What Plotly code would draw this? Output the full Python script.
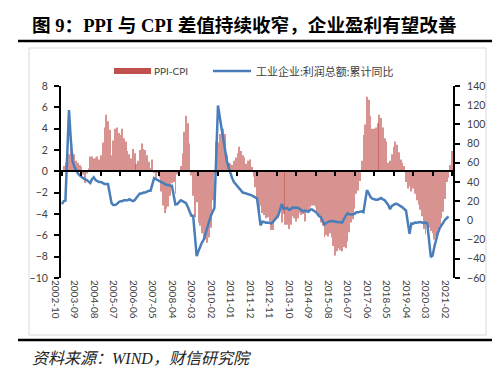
import pandas as pd
import plotly.graph_objects as go

# ---------------- data ----------------
months = [p.strftime('%Y-%m') for p in pd.period_range('2002-10', '2021-02', freq='M')]

tick_labels = ['2002-10', '2003-09', '2004-08', '2005-07', '2006-06', '2007-05', '2008-04',
               '2009-03', '2010-02', '2011-01', '2011-12', '2012-11', '2013-10', '2014-09',
               '2015-08', '2016-07', '2017-06', '2018-05', '2019-04', '2020-03', '2021-02']

ppi_cpi = (
    [-0.2, 0.5, 0.8] +                                                  # 2002 Oct-Dec
    [1.2, 1.6, 2.2, 2.0, 1.6, 1.0, 0.8, 0.6, 0.4, -0.3, -1.1, -0.2] +  # 2003
    [0.3, 1.4, 1.4, 1.2, 1.3, 1.4, 1.1, 1.5, 2.7, 4.1, 5.3, 4.7] +     # 2004
    [3.9, 1.5, 2.9, 4.0, 4.1, 3.6, 3.4, 4.0, 3.1, 2.8, 1.9, 1.6] +     # 2005
    [1.2, 2.1, 1.7, 0.7, 1.0, 2.0, 2.6, 2.1, 2.0, 1.5, 0.9, 0.3] +     # 2006
    [1.1, -0.1, -0.6, -0.1, -0.6, -1.9, -3.2, -3.9, -3.5, -3.3, -2.3, -1.1] +  # 2007
    [-1.0, -2.1, -0.3, -0.4, 0.5, 1.7, 3.7, 5.2, 4.5, 2.6, -0.4, -2.3] +       # 2008
    [-4.3, -2.9, -4.8, -5.1, -5.8, -6.1, -6.4, -6.7, -6.2, -5.3, -2.7, -0.2] + # 2009
    [2.8, 2.7, 3.5, 4.0, 4.0, 3.5, 1.5, 0.8, 0.7, 0.6, 1.0, 1.3] +     # 2010
    [1.7, 2.3, 1.9, 1.5, 1.3, 0.7, 1.0, 1.1, 0.4, -0.5, -1.5, -2.4] +  # 2011
    [-3.8, -3.2, -3.9, -4.1, -4.4, -4.3, -4.7, -5.5, -5.5, -4.5, -4.2, -4.4] + # 2012
    [-3.6, -4.8, -4.0, -5.0, -5.0, -5.4, -5.0, -4.2, -4.4, -4.7, -4.4, -3.9] + # 2013
    [-4.1, -4.0, -4.7, -3.8, -3.9, -3.4, -3.2, -3.2, -3.4, -3.8, -4.1, -4.8] + # 2014
    [-5.1, -6.2, -6.0, -6.1, -5.8, -6.2, -7.0, -7.9, -7.5, -7.2, -7.4, -7.5] + # 2015
    [-7.1, -7.2, -6.6, -5.7, -4.8, -4.5, -3.5, -2.1, -1.8, -0.9, 1.0, 3.4] +   # 2016
    [4.4, 7.0, 6.7, 5.2, 4.0, 4.0, 4.1, 4.5, 5.3, 5.0, 4.1, 3.1] +     # 2017
    [2.8, 0.8, 1.0, 1.6, 2.3, 2.8, 2.5, 1.8, 1.1, 0.8, 0.5, -1.0] +    # 2018
    [-1.6, -1.4, -1.9, -1.6, -2.1, -2.7, -3.1, -3.6, -4.2, -5.4, -5.9, -5.0] + # 2019
    [-5.3, -5.6, -5.8, -6.4, -6.1, -5.5, -5.1, -4.4, -3.8, -2.6, -1.0, -0.6] + # 2020
    [0.6, 1.9]                                                           # 2021 Jan-Feb
)

profit_yoy = (
    [17, 20, 20.6] +                                                    # 2002 Oct-Dec
    [None, 115, 85, 62, 56, 52, 49, 47, 45, 44, 43, 42] +               # 2003
    [None, 39, 43, 45, 42, 41, 40, 40, 39, 38, 38, 38] +                # 2004
    [None, 18, 16, 16, 17, 19, 20, 20, 21, 21, 21, 22] +                # 2005
    [None, 20, 21, 24, 26, 28, 28, 29, 29, 30, 31, 31] +                # 2006
    [None, 44, 43, 42, 41, 40, 39, 38, 37, 37, 36, 36] +                # 2007
    [None, 16.5, 17, 18.5, 20.9, 20, 19, 18, 14, 9, 4.9, 4.9] +         # 2008
    [None, -37.3, -32, -27, -22.9, -20, -13, -8, -2, 5, 9, 13] +        # 2009
    [None, 119.7, 105, 96, 85, 72, 62, 55, 48, 44, 40, 38] +            # 2010
    [None, 34, 32, 29, 28.5, 28, 27, 27, 26, 25, 24, 23] +              # 2011
    [None, -5.2, -1.3, -1.6, -2.4, -2.2, -2.7, -3.1, -1.8, 0.5, 3, 5.3] +        # 2012
    [None, 17.2, 12.1, 12.4, 13.0, 11.1, 11.6, 13.4, 13.5, 13.7, 13.2, 12.2] +   # 2013
    [None, 9.4, 10.1, 9.6, 8.9, 11.4, 11.4, 10.0, 9.0, 7.0, 4.4, 3.3] +          # 2014
    [None, -4.2, -2.7, -1.3, -0.8, -0.7, -1.0, -1.9, -1.7, -2.0, -1.9, -2.3] +   # 2015
    [None, 4.8, 7.4, 6.5, 6.4, 6.2, 6.9, 8.4, 8.4, 8.6, 9.4, 8.5] +              # 2016
    [None, 31.5, 28.3, 24.4, 22.7, 22.0, 21.6, 21.6, 22.8, 23.3, 21.9, 21.0] +   # 2017
    [None, 16.1, 11.6, 15.0, 16.5, 17.2, 17.1, 16.2, 14.7, 13.6, 11.8, 10.3] +   # 2018
    [None, -14.0, -3.3, -3.4, -2.3, -2.4, -1.7, -1.7, -2.1, -2.9, -2.1, -3.3] +  # 2019
    [None, -38.3, -36.7, -27.4, -19.3, -12.8, -8.1, -4.4, -2.4, 0.7, 2.4, 4.1] + # 2020
    [None, None]                                                         # 2021
)

left_range = [-10, 8]
right_range = [-60, 140]

title_text = '图 9：PPI 与 CPI 差值持续收窄，企业盈利有望改善'
source_text = '资料来源：WIND，财信研究院'
bar_name = 'PPI-CPI'
line_name = '工业企业:利润总额:累计同比'

# ---------------- layout geometry (pixels) ----------------
W, H = 500, 368
PL, PR, PT, PB = 53, 445, 78, 270   # plot area box


def px2x(px):
    return (px - PL) / (PR - PL)


def py2y(py):
    return (PB - py) / (PB - PT)


RED = '#C0504D'
BLUE = '#4A7EBB'
TXT = '#404040'
TICKFONT = dict(family='Lato, Noto Sans CJK SC, sans-serif', size=10.5, color=TXT)

fig = go.Figure()
fig.add_trace(go.Bar(x=months, y=ppi_cpi, name=bar_name,
                     marker=dict(color=RED, line=dict(width=0), opacity=0.62),
                     xaxis='x', yaxis='y', showlegend=False))
# invisible carrier for the zero-crossing category axis (x2)
fig.add_trace(go.Scatter(x=months, y=[None] * len(months), mode='lines', hoverinfo='skip',
                         line=dict(width=0), xaxis='x2', yaxis='y', showlegend=False))
fig.add_trace(go.Scatter(x=months, y=profit_yoy, name=line_name, mode='lines', connectgaps=True,
                         line=dict(color=BLUE, width=2.5), xaxis='x', yaxis='y2', showlegend=False))

zero_pos = (0 - left_range[0]) / (left_range[1] - left_range[0])
n = len(months)

fig.update_layout(
    width=W, height=H,
    margin=dict(l=PL, r=W - PR, t=PT, b=H - PB, pad=0),
    paper_bgcolor='white', plot_bgcolor='white',
    bargap=0.55,
    showlegend=False,
    xaxis=dict(type='category', categoryorder='array', categoryarray=months,
               range=[-0.5, n - 0.5], tickmode='array', tickvals=tick_labels, ticktext=tick_labels,
               tickangle=90, showline=False, ticks='', showgrid=False, zeroline=False,
               tickfont=dict(family='Lato, sans-serif', size=10, color=TXT),
               ticklabelstandoff=1, ticklabelshift=-7),
    xaxis2=dict(type='category', categoryorder='array', categoryarray=months,
                range=[-0.5, n - 0.5], overlaying='x', anchor='free', position=zero_pos,
                tickmode='array', tickvals=tick_labels, showticklabels=False,
                showline=True, linecolor='black', linewidth=2,
                ticks='outside', ticklen=4, tickwidth=1.5, tickcolor='black',
                showgrid=False, zeroline=False),
    yaxis=dict(range=left_range, dtick=2, showline=True, linecolor='black', linewidth=2,
               ticks='outside', ticklen=5, tickwidth=1.5, tickcolor='black',
               showgrid=False, zeroline=False, tickfont=TICKFONT, ticklabelstandoff=4),
    yaxis2=dict(range=right_range, dtick=20, overlaying='y', side='right', anchor='x',
                showline=True, linecolor='black', linewidth=2,
                ticks='outside', ticklen=5, tickwidth=1.5, tickcolor='black',
                showgrid=False, zeroline=False, tickfont=TICKFONT, ticklabelstandoff=5),
)

shapes = [
    # frame of the chart box
    dict(type='rect', xref='paper', yref='paper', x0=px2x(21), x1=px2x(478), y0=py2y(40), y1=py2y(327),
         line=dict(color='#D9D9D9', width=1), layer='below'),
    # heavy rule under the title
    dict(type='line', xref='paper', yref='paper', x0=px2x(10), x1=px2x(488), y0=py2y(33), y1=py2y(33),
         line=dict(color='black', width=2.5)),
    # heavy rule above the source
    dict(type='line', xref='paper', yref='paper', x0=px2x(10), x1=px2x(488), y0=py2y(332), y1=py2y(332),
         line=dict(color='black', width=2.5)),
    # legend swatches
    dict(type='rect', xref='paper', yref='paper', x0=px2x(106), x1=px2x(143), y0=py2y(66), y1=py2y(60),
         fillcolor=RED, line=dict(width=0)),
    dict(type='line', xref='paper', yref='paper', x0=px2x(205), x1=px2x(243), y0=py2y(63), y1=py2y(63),
         line=dict(color=BLUE, width=2.5)),
]

annotations = [
    dict(text='<b>' + title_text + '</b>', xref='paper', yref='paper', x=px2x(22), y=py2y(17),
         xanchor='left', yanchor='middle', showarrow=False,
         font=dict(family='Liberation Serif, Noto Sans CJK SC, serif', size=18.6, color='black')),
    dict(text=source_text, xref='paper', yref='paper', x=px2x(22), y=py2y(350),
         xanchor='left', yanchor='middle', showarrow=False,
         font=dict(family='Liberation Serif, Noto Sans CJK SC, serif', size=16, color='#222222',
                   style='italic')),
    dict(text=bar_name, xref='paper', yref='paper', x=px2x(144), y=py2y(63),
         xanchor='left', yanchor='middle', showarrow=False,
         font=dict(family='Lato, Noto Sans CJK SC, sans-serif', size=10, color=TXT)),
    dict(text=line_name, xref='paper', yref='paper', x=px2x(246), y=py2y(63),
         xanchor='left', yanchor='middle', showarrow=False,
         font=dict(family='Lato, Noto Sans CJK SC, sans-serif', size=11, color=TXT)),
]

fig.update_layout(shapes=shapes, annotations=annotations)
fig.write_html('out.html')
